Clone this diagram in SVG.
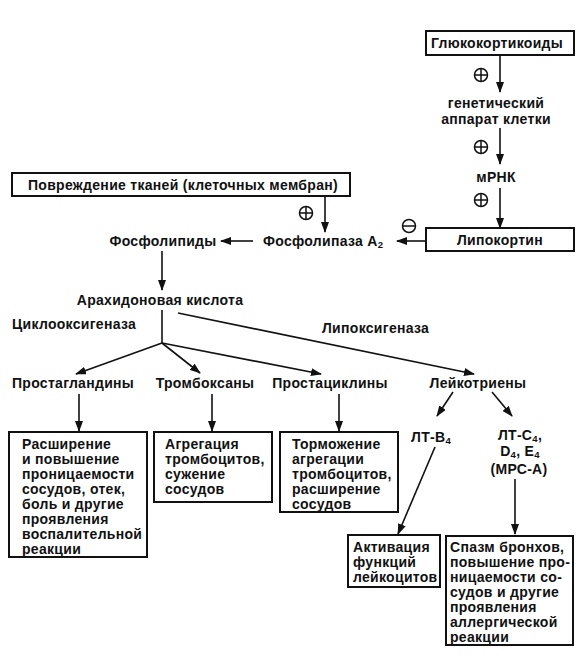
<svg xmlns="http://www.w3.org/2000/svg" width="588" height="659" viewBox="0 0 588 659">
<style>
text{font-family:"Liberation Sans",Arial,sans-serif;font-size:14px;font-weight:bold;fill:#111;letter-spacing:0.3px}
.c{text-anchor:middle}
.box{fill:#fff;stroke:#111;stroke-width:2}
.ln{stroke:#111;stroke-width:1.6;fill:none}
.sub{font-size:9.5px}
.sgn{fill:none;stroke:#111;stroke-width:1.5}
</style>
<defs>
<marker id="ah" markerWidth="11" markerHeight="8" refX="10" refY="4" orient="auto" markerUnits="userSpaceOnUse"><path d="M0,0 L11,4 L0,8 z" fill="#111"/></marker>
</defs>
<rect width="588" height="659" fill="#fff"/>
<g id="connectors">
<line class="ln" x1="500" y1="55" x2="500" y2="92" marker-end="url(#ah)"/>
<line class="ln" x1="500" y1="128" x2="500" y2="164" marker-end="url(#ah)"/>
<line class="ln" x1="500" y1="188" x2="500" y2="228" marker-end="url(#ah)"/>
<line class="ln" x1="426" y1="241" x2="397" y2="241" marker-end="url(#ah)"/>
<line class="ln" x1="325" y1="196" x2="325" y2="232" marker-end="url(#ah)"/>
<line class="ln" x1="253" y1="241" x2="221" y2="241" marker-end="url(#ah)"/>
<line class="ln" x1="162" y1="251" x2="162" y2="290" marker-end="url(#ah)"/>
<line class="ln" x1="162" y1="310" x2="162" y2="343"/>
<line class="ln" x1="162" y1="343" x2="76" y2="374" marker-end="url(#ah)"/>
<line class="ln" x1="162" y1="343" x2="200" y2="373" marker-end="url(#ah)"/>
<line class="ln" x1="162" y1="343" x2="321" y2="374" marker-end="url(#ah)"/>
<line class="ln" x1="178" y1="313" x2="474" y2="374" marker-end="url(#ah)"/>
<line class="ln" x1="79" y1="394" x2="79" y2="431" marker-end="url(#ah)"/>
<line class="ln" x1="212" y1="394" x2="212" y2="431" marker-end="url(#ah)"/>
<line class="ln" x1="339" y1="394" x2="339" y2="431" marker-end="url(#ah)"/>
<line class="ln" x1="453" y1="392" x2="437" y2="416" marker-end="url(#ah)"/>
<line class="ln" x1="492" y1="392" x2="512" y2="416" marker-end="url(#ah)"/>
<line class="ln" x1="435" y1="447" x2="398" y2="534" marker-end="url(#ah)"/>
<line class="ln" x1="515" y1="479" x2="515" y2="534" marker-end="url(#ah)"/>
<g id="signs">
<circle class="sgn" cx="481" cy="75" r="6.5"/><path class="sgn" d="M474.5,75h13M481,68.5v13"/>
<circle class="sgn" cx="481" cy="147" r="6.5"/><path class="sgn" d="M474.5,147h13M481,140.5v13"/>
<circle class="sgn" cx="481" cy="200" r="6.5"/><path class="sgn" d="M474.5,200h13M481,193.5v13"/>
<circle class="sgn" cx="306" cy="213" r="6.5"/><path class="sgn" d="M299.5,213h13M306,206.5v13"/>
<circle class="sgn" cx="409" cy="226" r="6.5"/><path class="sgn" d="M402.5,226h13"/>
</g>
</g>
<g id="glucocorticoids"><rect class="box" x="426" y="31" width="148" height="24"/><text class="c" x="497" y="48">Глюкокортикоиды</text></g>
<g id="genetic"><text class="c" x="496" y="108">генетический</text><text class="c" x="496" y="124">аппарат клетки</text></g>
<g id="mrna"><text class="c" x="496" y="182">мРНК</text></g>
<g id="lipocortin"><rect class="box" x="426" y="228" width="148" height="23"/><text class="c" x="500" y="245">Липокортин</text></g>
<g id="damage"><rect class="box" x="12" y="173" width="338" height="23"/><text class="c" x="183" y="190">Повреждение тканей (клеточных мембран)</text></g>
<g id="phospholipids"><text class="c" x="163" y="246">Фосфолипиды</text></g>
<g id="pla2"><text x="263" y="246">Фосфолипаза А<tspan class="sub" dy="2">2</tspan></text></g>
<g id="arachidonic"><text class="c" x="160" y="305">Арахидоновая кислота</text></g>
<g id="cyclooxygenase"><text x="12" y="329">Циклооксигеназа</text></g>
<g id="lipoxygenase"><text x="322" y="333">Липоксигеназа</text></g>
<g id="prostaglandins"><text class="c" x="73" y="388">Простагландины</text></g>
<g id="thromboxanes"><text class="c" x="205" y="388">Тромбоксаны</text></g>
<g id="prostacyclins"><text class="c" x="330" y="388">Простациклины</text></g>
<g id="leukotrienes"><text class="c" x="478" y="388">Лейкотриены</text></g>
<g id="ltb4"><text class="c" x="431" y="442">ЛТ-В<tspan class="sub" dy="1.5">4</tspan></text></g>
<g id="ltc4"><text class="c" x="520" y="440">ЛТ-С<tspan class="sub" dy="1.5">4</tspan><tspan dy="-1.5">,</tspan></text><text class="c" x="520" y="456">D<tspan class="sub" dy="1.5">4</tspan><tspan dy="-1.5">, E</tspan><tspan class="sub" dy="1.5">4</tspan></text><text class="c" x="519" y="474">(МРС-А)</text></g>
<g id="box-prostaglandins"><rect class="box" x="9" y="432" width="138" height="125"/>
<text x="22" y="449">Расширение</text><text x="22" y="464">и повышение</text><text x="22" y="479">проницаемости</text><text x="22" y="494">сосудов, отек,</text><text x="22" y="509">боль и другие</text><text x="22" y="524">проявления</text><text x="22" y="539">воспалительной</text><text x="22" y="554">реакции</text></g>
<g id="box-thromboxanes"><rect class="box" x="154" y="432" width="118" height="70"/>
<text x="165" y="449">Агрегация</text><text x="165" y="464">тромбоцитов,</text><text x="165" y="479">сужение</text><text x="165" y="494">сосудов</text></g>
<g id="box-prostacyclins"><rect class="box" x="280" y="432" width="118" height="80"/>
<text x="292" y="449">Торможение</text><text x="292" y="464">агрегации</text><text x="292" y="479">тромбоцитов,</text><text x="292" y="494">расширение</text><text x="292" y="509">сосудов</text></g>
<g id="box-ltb4"><rect class="box" x="348" y="535" width="92" height="52"/>
<text x="353" y="552">Активация</text><text x="353" y="567">функций</text><text x="353" y="582">лейкоцитов</text></g>
<g id="box-ltc4"><rect class="box" x="446" y="536" width="127" height="109"/>
<text x="450" y="552">Спазм бронхов,</text><text x="450" y="567">повышение про-</text><text x="450" y="582">ницаемости со-</text><text x="450" y="597">судов и другие</text><text x="450" y="612">проявления</text><text x="450" y="627">аллергической</text><text x="450" y="642">реакции</text></g>
</svg>
